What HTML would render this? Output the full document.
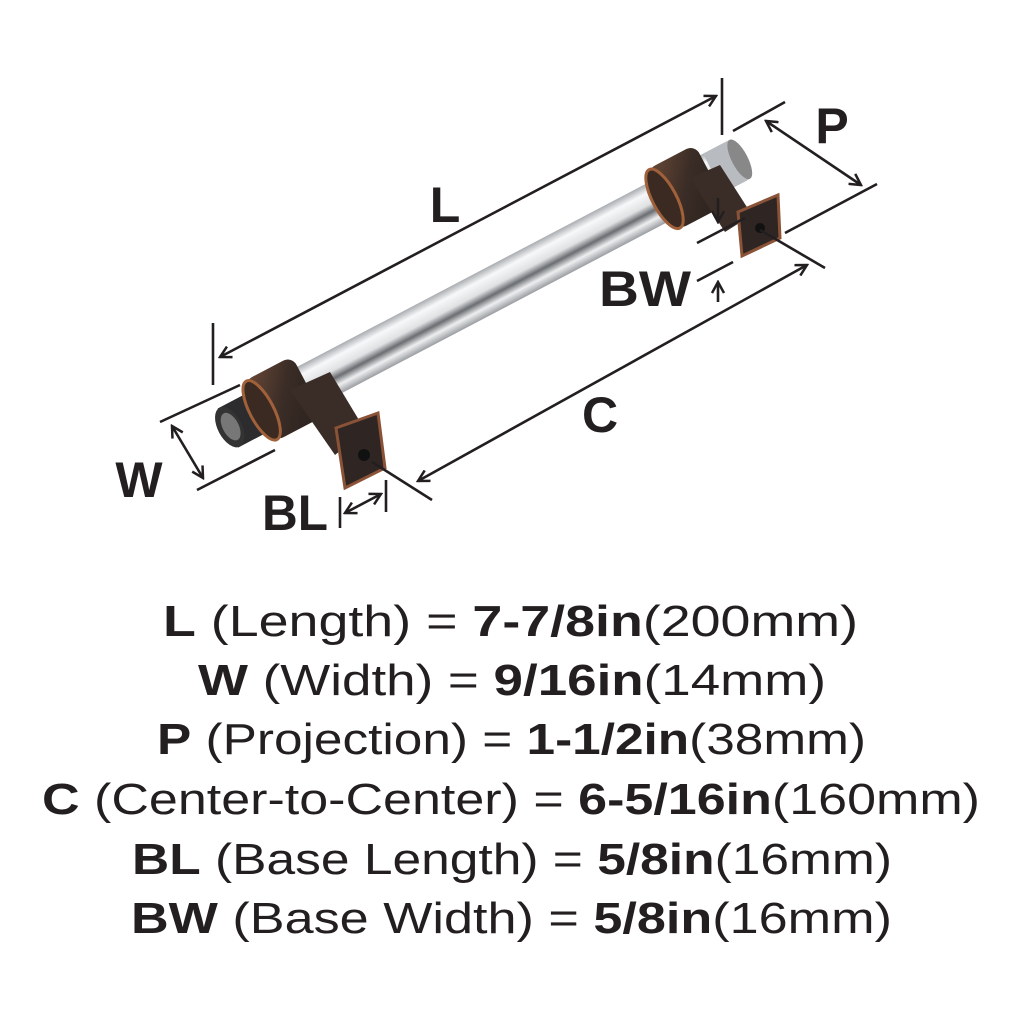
<!DOCTYPE html>
<html><head><meta charset="utf-8"><style>
html,body{margin:0;padding:0;background:#fff}
svg{display:block}
text{font-family:"Liberation Sans",sans-serif;fill:#231f20}
</style></head><body>
<svg width="1024" height="1024" viewBox="0 0 1024 1024" xmlns="http://www.w3.org/2000/svg">
<defs>
<linearGradient id="rod" x1="0" y1="0" x2="0" y2="1">
<stop offset="0" stop-color="#a9acb0"/><stop offset="0.2" stop-color="#f7f8f9"/><stop offset="0.45" stop-color="#dfe1e3"/><stop offset="0.62" stop-color="#6a6d71"/><stop offset="0.8" stop-color="#eeeff0"/><stop offset="1" stop-color="#9a9da1"/>
</linearGradient>
<linearGradient id="brz" x1="0" y1="0" x2="1" y2="1">
<stop offset="0" stop-color="#6b4a38"/><stop offset="0.5" stop-color="#3a2c26"/><stop offset="1" stop-color="#2a211d"/>
</linearGradient>
<marker id="a" markerWidth="14" markerHeight="14" refX="12" refY="7" orient="auto-start-reverse" markerUnits="userSpaceOnUse">
<path d="M1,1 L12,7 L1,13" fill="none" stroke="#231f20" stroke-width="2.5"/>
</marker>
</defs>

<g transform="translate(228,428) rotate(-27.7)">
<rect x="0" y="-22" width="575" height="44" fill="url(#rod)"/>
<rect x="0" y="-22" width="40" height="44" fill="#2c2c2e"/>
<ellipse cx="2" cy="0" rx="12" ry="22" fill="#333"/>
<ellipse cx="3" cy="0" rx="8" ry="15" fill="#777"/>
<rect x="548" y="-22" width="30" height="44" fill="#b8bbbf"/>
<ellipse cx="578" cy="0" rx="8" ry="22" fill="#888"/>
<rect x="35" y="-34" width="55" height="68" rx="10" fill="url(#brz)"/>
<ellipse cx="38" cy="0" rx="12" ry="33" fill="#3a2a22" stroke="#a0603a" stroke-width="3"/>
<rect x="490" y="-34" width="55" height="68" rx="10" fill="url(#brz)"/>
<ellipse cx="493" cy="0" rx="12" ry="33" fill="#3a2a22" stroke="#a0603a" stroke-width="3"/>
</g>
<polygon points="290,390 330,372 365,430 335,455" fill="#3a2d27"/>
<polygon points="336,428 378,413 385,468 345,488" fill="#2f2522" stroke="#8a5236" stroke-width="3"/>
<circle cx="364" cy="455" r="6" fill="#111"/>
<polygon points="690,178 720,165 752,215 725,232" fill="#3a2d27"/>
<polygon points="738,212 778,195 780,238 742,256" fill="#2f2522" stroke="#8a5236" stroke-width="3"/>
<circle cx="760" cy="228" r="5" fill="#111"/>

<g stroke="#231f20" stroke-width="2.6" fill="none">
<line x1="213" y1="323" x2="213" y2="385"/>
<line x1="722" y1="78" x2="722" y2="135"/>
<line x1="220" y1="357" x2="716" y2="96" marker-start="url(#a)" marker-end="url(#a)"/>
<line x1="733" y1="131" x2="785" y2="102"/>
<line x1="785" y1="233" x2="877" y2="184"/>
<line x1="766" y1="121" x2="861" y2="185" marker-start="url(#a)" marker-end="url(#a)"/>
<line x1="160" y1="422" x2="240" y2="385"/>
<line x1="197" y1="490" x2="275" y2="450"/>
<line x1="172" y1="426" x2="203" y2="478" marker-start="url(#a)" marker-end="url(#a)"/>
<line x1="372" y1="462" x2="432" y2="500"/>
<line x1="760" y1="230" x2="825" y2="268"/>
<line x1="418" y1="481" x2="807" y2="265" marker-start="url(#a)" marker-end="url(#a)"/>
<line x1="340" y1="497" x2="340" y2="528"/>
<line x1="386" y1="480" x2="386" y2="512"/>
<line x1="345" y1="513" x2="381" y2="494" marker-start="url(#a)" marker-end="url(#a)"/>
<line x1="697" y1="243" x2="745" y2="218"/>
<line x1="697" y1="281" x2="733" y2="262"/>
<line x1="718" y1="198" x2="718" y2="222" marker-end="url(#a)"/>
<line x1="718" y1="302" x2="718" y2="282" marker-end="url(#a)"/>
</g>

<g font-size="50" font-weight="bold" text-anchor="middle">
<text x="445" y="222">L</text>
<text x="832" y="143">P</text>
<text x="600" y="432">C</text>
<text x="139" y="497">W</text>
<text x="295" y="530" textLength="66" lengthAdjust="spacingAndGlyphs">BL</text>
<text x="645" y="306" textLength="92" lengthAdjust="spacingAndGlyphs">BW</text>
</g>

<g font-size="44">
<text x="163" y="636" textLength="695" lengthAdjust="spacingAndGlyphs"><tspan font-weight="bold">L</tspan> (Length) = <tspan font-weight="bold">7-7/8in</tspan>(200mm)</text>
<text x="198" y="695" textLength="628" lengthAdjust="spacingAndGlyphs"><tspan font-weight="bold">W</tspan> (Width) = <tspan font-weight="bold">9/16in</tspan>(14mm)</text>
<text x="157" y="754" textLength="709" lengthAdjust="spacingAndGlyphs"><tspan font-weight="bold">P</tspan> (Projection) = <tspan font-weight="bold">1-1/2in</tspan>(38mm)</text>
<text x="42" y="814" textLength="938" lengthAdjust="spacingAndGlyphs"><tspan font-weight="bold">C</tspan> (Center-to-Center) = <tspan font-weight="bold">6-5/16in</tspan>(160mm)</text>
<text x="132" y="874" textLength="760" lengthAdjust="spacingAndGlyphs"><tspan font-weight="bold">BL</tspan> (Base Length) = <tspan font-weight="bold">5/8in</tspan>(16mm)</text>
<text x="131" y="933" textLength="761" lengthAdjust="spacingAndGlyphs"><tspan font-weight="bold">BW</tspan> (Base Width) = <tspan font-weight="bold">5/8in</tspan>(16mm)</text>
</g>
</svg>
</body></html>
